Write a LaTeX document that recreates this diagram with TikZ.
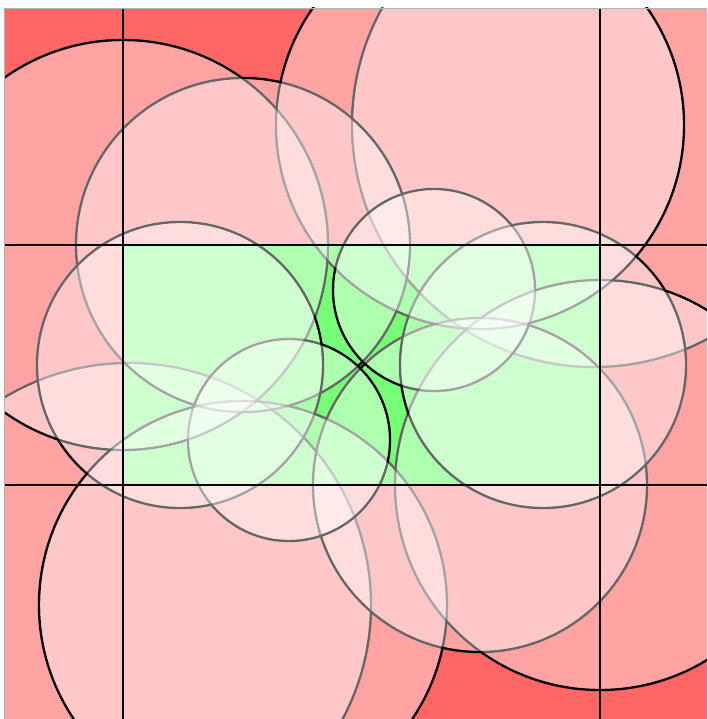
\documentclass[tikz,border=0pt]{standalone}
\definecolor{bgred}{RGB}{255,102,102}
\definecolor{bggreen}{RGB}{30,255,30}
\tikzset{
  disk/.style={fill=white, fill opacity=0.4},
  rim/.style={draw=black, line width=2.4pt},
  gridline/.style={draw=black, line width=1.8pt}
}
\begin{document}
\begin{tikzpicture}[x=1pt, y=-1pt]
  \def\outerdisks{594/125/242, 129/605/242}
  \def\firstdisks{243/245/167, 480/485/167}
  \def\bigdisks{123/245/205, 600/485/205, 480/125/204, 243/605/204}
  \def\smalldisks{180/365/143, 543/365/143, 434/290/101, 289/440/101}
  \useasboundingbox (0,0) rectangle (707,719);
  \begin{scope}
    \clip (4,8) rectangle (707,719);
    % background
    \fill[bgred] (4,8) rectangle (707,719);
    \fill[bggreen] (123,245) rectangle (600,485);
    % outer disks
    \foreach \cx/\cy/\r in \outerdisks {
      \draw[rim] (\cx,\cy) circle[radius=\r pt];
      \fill[disk] (\cx,\cy) circle[radius=\r pt - 1.2pt];
    }
    % outlines of the big disks
    \foreach \cx/\cy/\r in \firstdisks
      \draw[rim] (\cx,\cy) circle[radius=\r pt];
    \foreach \cx/\cy/\r in \bigdisks
      \draw[rim] (\cx,\cy) circle[radius=\r pt];
    \foreach \cx/\cy/\r in \firstdisks
      \fill[disk] (\cx,\cy) circle[radius=\r pt - 1.2pt];
    % outlines of the small disks
    \foreach \cx/\cy/\r in \smalldisks
      \draw[rim] (\cx,\cy) circle[radius=\r pt];
    % fills
    \foreach \cx/\cy/\r in \bigdisks
      \fill[disk] (\cx,\cy) circle[radius=\r pt - 1.2pt];
    \foreach \cx/\cy/\r in \smalldisks
      \fill[disk] (\cx,\cy) circle[radius=\r pt - 1.2pt];
    % grid
    \draw[gridline, line width=2.6pt] (123,8) -- (123,719);
    \draw[gridline] (600,8) -- (600,719);
    \draw[gridline] (4,245) -- (707,245);
    \draw[gridline] (4,485) -- (707,485);
  \end{scope}
  \draw[black!30, line width=0.8pt] (4,719) -- (4,8) -- (707,8);
\end{tikzpicture}
\end{document}
